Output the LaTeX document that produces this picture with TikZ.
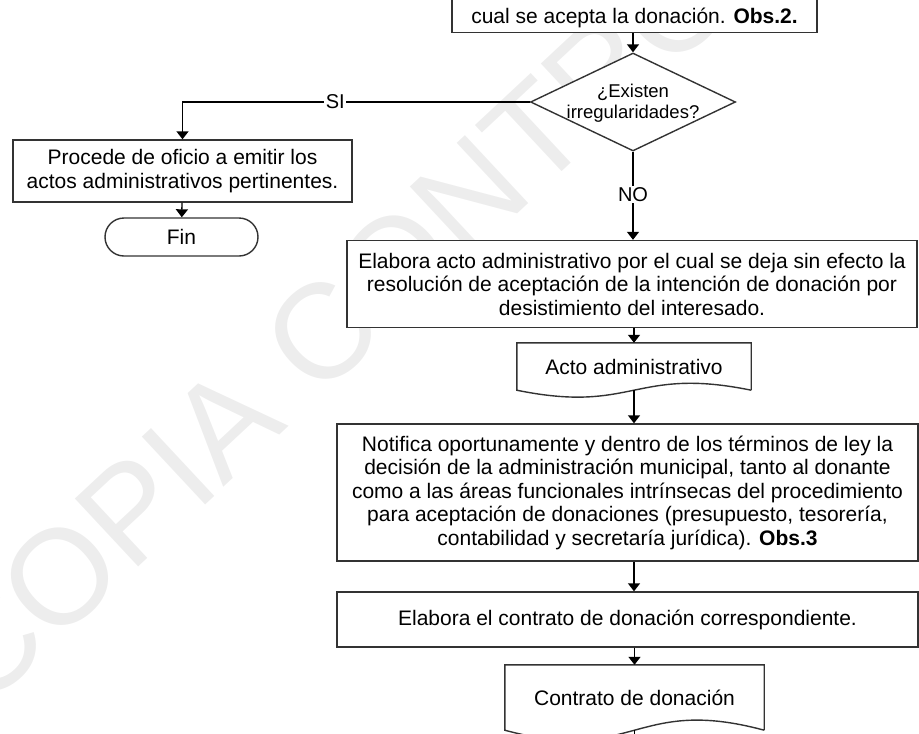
\documentclass[tikz,border=0pt]{standalone}
\usepackage{fontspec}
\setmainfont{Liberation Sans}
\usetikzlibrary{arrows.meta,shapes.geometric}
\begin{document}
\begin{tikzpicture}[x=1pt,y=-1pt,
    borde/.style={draw=black!80,line width=1.4pt},
    caja/.style={borde,fill=white,rectangle,align=center,inner sep=0pt,
      font=\fontsize{21}{23.5}\selectfont},
    decision/.style={borde,fill=white,diamond,inner sep=0pt,
      minimum width=205pt,minimum height=98pt},
    terminal/.style={caja,rounded corners=19pt},
    documento/.style={rectangle,fill=white,align=center,inner sep=0pt,
      font=\fontsize{21}{23.5}\selectfont},
    flecha/.style={-{Triangle[length=8pt,width=12pt]},line width=1.4pt},
    etiq/.style={fill=white,inner sep=1.5pt,font=\fontsize{20}{20}\selectfont}]
  \useasboundingbox (0,0) rectangle (919,734);
  \clip (0,0) rectangle (919,734);
  \node[rotate=43,text=black!7,font=\fontsize{135}{135}\selectfont,
    anchor=base west] (marca) at (-20,715) {COPIA CONTROLADA};

  \node[caja,minimum width=365pt,text height=40pt,text depth=9pt,anchor=south] (acepta)
    at (634.5,33) {cual se acepta la donación. \textbf{Obs.2.}};
  \node[decision] (irreg) at (633,102) {};
  \node[align=center,inner sep=0pt,font=\fontsize{18.5}{21}\selectfont] (irregtxt)
    at (633,103) {¿Existen\\irregularidades?};
  \node[caja,minimum width=339pt,minimum height=62pt] (oficio) at (182.5,171)
    {Procede de oficio a emitir los\\actos administrativos pertinentes.};
  \node[terminal,minimum width=153pt,minimum height=38pt] (fin) at (181.5,237) {Fin};
  \node[caja,minimum width=570pt,minimum height=87pt] (desiste) at (632,284)
    {Elabora acto administrativo por el cual se deja sin efecto la\\
     resolución de aceptación de la intención de donación por\\
     desistimiento del interesado.};
  \node[documento,minimum width=234pt,minimum height=47pt] (actodoc) at (634,366.5)
    {Acto administrativo};
  \node[caja,minimum width=581pt,minimum height=137pt] (notifica) at (627.5,492.5)
    {Notifica oportunamente y dentro de los términos de ley la\\
     decisión de la administración municipal, tanto al donante\\
     como a las áreas funcionales intrínsecas del procedimiento\\
     para aceptación de donaciones (presupuesto, tesorería,\\
     contabilidad y secretaría jurídica). \textbf{Obs.3}};
  \node[caja,minimum width=581pt,minimum height=55pt] (contrato) at (627.5,619.5)
    {Elabora el contrato de donación correspondiente.};
  \node[documento,minimum width=259pt,minimum height=65pt] (contratodoc) at (634.5,697.5)
    {Contrato de donación};
  \coordinate (sal) at (634.5,760);

  \draw[borde] (actodoc.south east) -- (actodoc.north east) -- (actodoc.north west)
    -- (actodoc.south west) .. controls ([yshift=-24pt]actodoc.south)
    and ([yshift=24pt]actodoc.south) .. (actodoc.south east);
  \draw[borde] (contratodoc.south east) -- (contratodoc.north east) -- (contratodoc.north west)
    -- (contratodoc.south west) .. controls ([yshift=-35pt]contratodoc.south)
    and ([yshift=35pt]contratodoc.south) .. (contratodoc.south east);

  \draw[flecha] (acepta.south -| irreg) -- (irreg.north);
  \draw[flecha] (irreg.west) -| node[etiq,pos=0.28]{SI} (oficio.north);
  \draw[flecha] (oficio) -- (fin);
  \draw[flecha] (irreg.south) -- node[etiq,pos=0.49]{NO} (irreg.south |- desiste.north);
  \draw[flecha] (desiste.south -| actodoc) -- (actodoc.north);
  \draw[flecha] (actodoc.south) -- (actodoc.south |- notifica.north);
  \draw[flecha] (notifica.south -| actodoc) -- (contrato.north -| actodoc);
  \draw[flecha] (contrato.south -| contratodoc) -- (contratodoc.north);
  \draw[line width=1.4pt] (contratodoc.south) -- (sal);
\end{tikzpicture}
\end{document}
